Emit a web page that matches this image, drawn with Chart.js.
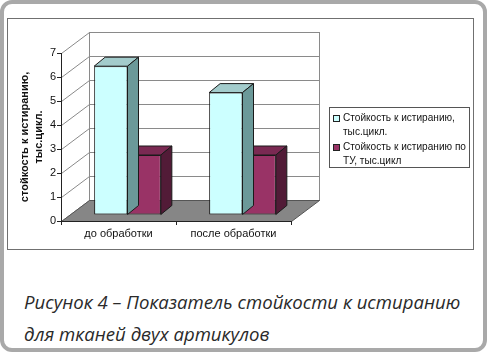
<!DOCTYPE html>
<html>
<head>
<meta charset="utf-8">
<script src="https://cdn.jsdelivr.net/npm/chart.js@4.4.0/dist/chart.umd.min.js"></script>
<style>
  html, body { margin: 0; padding: 0; background: #fff; }
  #frame { position: absolute; left: 0; top: 0; width: 487px; height: 352px; box-sizing: border-box;
           border: 4px solid #a9a9a9; border-radius: 12px; }
  #box { position: absolute; left: 7px; top: 18px; width: 465px; height: 230px; border: 1px solid #707070; }
  #wrap { position: relative; width: 465px; height: 230px; }
  #legend { position: absolute; left: 329px; top: 107px; width: 139px; height: 59px; border: 1px solid #555;
            font: 10.1px "Liberation Sans", Arial, sans-serif; color: #111; }
  .item { position: absolute; left: 13px; line-height: 14px; white-space: nowrap; }
  .sw { position: absolute; left: -10px; top: 4px; width: 5px; height: 5px; border: 1px solid #222; }
  .caption { position: absolute; left: 24px; font: italic 400 18.6px "Open Sans", sans-serif; line-height: 24px;
             color: #2a2a2a; white-space: nowrap; }
</style>
</head>
<body>
<div id="frame"></div>
<div id="box"><div id="wrap"><canvas id="chart"></canvas></div></div>
<div id="legend"></div>
<div class="caption" style="top:290px">Рисунок 4 – Показатель стойкости к истиранию</div>
<div class="caption" style="top:322px">для тканей двух артикулов</div>
<script>
const categories = ["до обработки", "после обработки"];
const seriesNames = [
  ["Стойкость к истиранию,", "тыс.цикл."],
  ["Стойкость к истиранию по", "ТУ, тыс.цикл"],
];
const wearValues = [6.2, 5.1];
const specValues = [2.5, 2.5];
const yTicks = [0, 1, 2, 3, 4, 5, 6, 7];
const yTitle = ["стойкость к истиранию,", "тыс.цикл."];

// цвета граней: лицевая, верх, бок
const faces = [
  { front: "#ccffff", top: "#a3cccc", side: "#6b9999" },
  { front: "#993366", top: "#7a2952", side: "#521b37" },
];

const FONT = "'Liberation Sans', Arial, sans-serif";
const DX = 28, DY = -21;          // глубина стенок
const SHIFT_X = 9, SHIFT_Y = -6;  // столбики стоят в глубине
const BX = 11, BY = -9;           // глубина столбика
const px = v => Math.round(v) + 0.5;

// стенки и пол
const box3d = {
  id: "box3d",
  beforeDraw(chart) {
    const { ctx, chartArea: a, scales: { y } } = chart;
    ctx.save();
    ctx.lineWidth = 1;
    ctx.fillStyle = "#fff";
    ctx.strokeStyle = "#8a8a8a";
    ctx.fillRect(a.left + DX, a.top + DY, a.right - a.left, a.bottom - a.top);
    ctx.strokeRect(px(a.left + DX), px(a.top + DY), Math.round(a.right - a.left), Math.round(a.bottom - a.top));
    yTicks.forEach(v => {
      const yy = y.getPixelForValue(v);
      ctx.beginPath();
      ctx.moveTo(px(a.left + DX), px(yy + DY));
      ctx.lineTo(px(a.right + DX), px(yy + DY));
      ctx.moveTo(px(a.left), px(yy));
      ctx.lineTo(px(a.left + DX), px(yy + DY));
      ctx.stroke();
    });
    // пол
    ctx.fillStyle = "#868686";
    ctx.strokeStyle = "#555";
    ctx.beginPath();
    ctx.moveTo(px(a.left), px(a.bottom));
    ctx.lineTo(px(a.right), px(a.bottom));
    ctx.lineTo(px(a.right + DX), px(a.bottom + DY));
    ctx.lineTo(px(a.left + DX), px(a.bottom + DY));
    ctx.closePath();
    ctx.fill();
    ctx.stroke();
    ctx.restore();
  },
  beforeDatasetsDraw(chart) {
    chart.ctx.save();
    chart.ctx.translate(SHIFT_X, SHIFT_Y);
  },
  afterDatasetDraw(chart, args) {
    const ctx = chart.ctx;
    const f = faces[args.index];
    ctx.save();
    ctx.lineWidth = 1;
    ctx.strokeStyle = "#1a1a1a";
    args.meta.data.forEach(el => {
      const { x, y, base, width } = el.getProps(["x", "y", "base", "width"], true);
      const l = x - width / 2, r = x + width / 2;
      ctx.fillStyle = f.top;
      ctx.beginPath();
      ctx.moveTo(l, y); ctx.lineTo(r, y); ctx.lineTo(r + BX, y + BY); ctx.lineTo(l + BX, y + BY);
      ctx.closePath(); ctx.fill(); ctx.stroke();
      ctx.fillStyle = f.side;
      ctx.beginPath();
      ctx.moveTo(r, y); ctx.lineTo(r + BX, y + BY); ctx.lineTo(r + BX, base + BY); ctx.lineTo(r, base);
      ctx.closePath(); ctx.fill(); ctx.stroke();
    });
    ctx.restore();
  },
  afterDatasetsDraw(chart) {
    chart.ctx.restore();
  },
};

const chart = new Chart(document.getElementById("chart"), {
  type: "bar",
  data: {
    labels: categories,
    datasets: [wearValues, specValues].map((vals, i) => ({
      label: seriesNames[i].join(" "),
      data: vals,
      backgroundColor: faces[i].front,
      borderColor: "#1a1a1a",
      borderWidth: 1,
      borderSkipped: false,
      categoryPercentage: 0.58,
      barPercentage: 1,
    })),
  },
  options: {
    responsive: true,
    maintainAspectRatio: false,
    animation: false,
    layout: { padding: { left: 0, top: 34, right: 182, bottom: 6 } },
    plugins: { legend: { display: false }, tooltip: { enabled: false } },
    scales: {
      x: {
        grid: { drawOnChartArea: false, tickLength: 4, color: "#222" },
        border: { color: "#222" },
        ticks: { padding: 2, color: "#111", font: { family: FONT, size: 11 } },
        afterFit: s => { s.height = 22; },
      },
      y: {
        min: 0,
        max: 7,
        afterBuildTicks: s => { s.ticks = yTicks.map(v => ({ value: v })); },
        grid: { drawOnChartArea: false, tickLength: 4, color: "#222" },
        border: { color: "#222" },
        ticks: { padding: 1, color: "#111", font: { family: FONT, size: 11 } },
        title: {
          display: true,
          text: yTitle,
          color: "#111",
          font: { family: FONT, size: 11, weight: "bold", lineHeight: 1.27 },
          padding: { top: 10, bottom: 0 },
        },
        afterFit: s => { s.width = 53; },
      },
    },
  },
  plugins: [box3d],
});

// легенда
const legend = document.getElementById("legend");
chart.data.datasets.forEach((ds, i) => {
  const item = document.createElement("div");
  item.className = "item";
  item.style.top = (3 + i * 29) + "px";
  item.innerHTML = '<span class="sw" style="background:' + ds.backgroundColor + '"></span>' +
    seriesNames[i].join("<br>");
  legend.appendChild(item);
});
</script>
</body>
</html>
